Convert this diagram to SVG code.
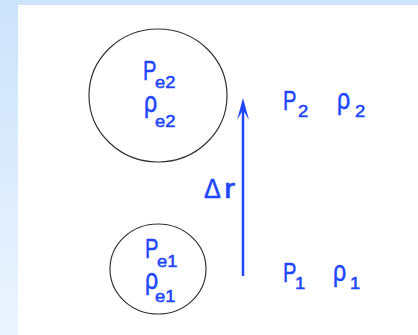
<svg xmlns="http://www.w3.org/2000/svg" width="418" height="335" viewBox="0 0 418 335">
<style>
.t{font-family:"Liberation Sans",Arial,sans-serif;fill:#2046ff;stroke:#2046ff;stroke-width:0.5}
.m{font-size:28px}
.r{font-size:29px}
.s{font-size:16px}
.c{fill:none;stroke:#333;stroke-width:1.2}
</style>
<defs>
<linearGradient id="bg" x1="0" y1="0" x2="0" y2="1">
<stop offset="0" stop-color="#cde3fb"/>
<stop offset="1" stop-color="#ebf4fe"/>
</linearGradient>
<marker id="ah" markerUnits="userSpaceOnUse" markerWidth="26" markerHeight="16" refX="13" refY="8" orient="auto" viewBox="0 0 26 16">
<polygon points="25,8 3,2 13,8 3,14" fill="#2046ff"/>
</marker>
</defs>
<rect x="0" y="0" width="418" height="335" fill="url(#bg)"/>
<rect x="18" y="5" width="400" height="330" fill="#fff"/>
<g id="connectors">
<line x1="243" y1="276" x2="243" y2="110" stroke="#2046ff" stroke-width="2.5" marker-end="url(#ah)"/>
</g>
<g id="parcel2">
<ellipse class="c" cx="158" cy="95.5" rx="69" ry="66.5"/>
<text class="t m" transform="translate(143,80) scale(0.72,1)">P</text>
<text class="t s" transform="translate(155,88) scale(1.15,1)">e2</text>
<text class="t r" transform="translate(144,112) scale(0.8,1)">ρ</text>
<text class="t s" transform="translate(155,127) scale(1.15,1)">e2</text>
</g>
<g id="parcel1">
<ellipse class="c" cx="158" cy="269" rx="48" ry="45"/>
<text class="t m" transform="translate(145,258) scale(0.72,1)">P</text>
<text class="t s" transform="translate(157,267) scale(1.15,1)">e1</text>
<text class="t r" transform="translate(145,289) scale(0.8,1)">ρ</text>
<text class="t s" transform="translate(155,302) scale(1.15,1)">e1</text>
</g>
<g id="env2">
<text class="t m" transform="translate(283,110) scale(0.72,1)">P</text>
<text class="t s" transform="translate(298,117) scale(1.15,1)">2</text>
<text class="t r" transform="translate(337,109) scale(0.8,1)">ρ</text>
<text class="t s" transform="translate(355,117) scale(1.15,1)">2</text>
</g>
<g id="env1">
<text class="t m" transform="translate(283,282) scale(0.72,1)">P</text>
<text class="t s" transform="translate(295,289) scale(1.15,1)">1</text>
<text class="t r" transform="translate(333,281) scale(0.8,1)">ρ</text>
<text class="t s" transform="translate(350,289) scale(1.15,1)">1</text>
</g>
<g id="dr">
<text class="t m" transform="translate(204,198) scale(0.9,1)">Δ</text>
<text class="t m" transform="translate(224,198) scale(1.2,1)">r</text>
</g>
</svg>
